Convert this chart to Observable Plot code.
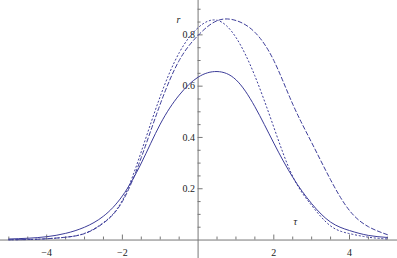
<!DOCTYPE html>
<html>
<head>
<meta charset="utf-8">
<script src="https://cdn.jsdelivr.net/npm/d3@7"></script>
<script src="https://cdn.jsdelivr.net/npm/@observablehq/plot@0.6"></script>
<style>
  html, body { margin: 0; padding: 0; background: #fff; }
</style>
</head>
<body>
<div id="chart"></div>
<script>
// tau sample points
const tau = [-5, -4.5, -4, -3.5, -3, -2.5, -2, -1.5, -1, -0.5, 0, 0.5, 1, 1.5, 2, 2.5, 3, 3.5, 4, 4.5, 5];
// series values
const solid  = [0.004, 0.007, 0.013, 0.026, 0.050, 0.093, 0.172, 0.300, 0.452, 0.565, 0.635, 0.657, 0.625, 0.520, 0.378, 0.245, 0.142, 0.070, 0.037, 0.018, 0.010];
const dotted = [0.001, 0.002, 0.005, 0.011, 0.026, 0.068, 0.155, 0.345, 0.560, 0.730, 0.828, 0.857, 0.790, 0.640, 0.440, 0.248, 0.135, 0.055, 0.025, 0.011, 0.004];
const dashed = [0.001, 0.002, 0.005, 0.011, 0.025, 0.066, 0.150, 0.322, 0.530, 0.700, 0.798, 0.855, 0.856, 0.810, 0.700, 0.530, 0.380, 0.235, 0.115, 0.052, 0.021];
// axis ticks and labels
const xMinorTicks = [-5, -4.5, -3.5, -3, -2.5, -1.5, -1, -0.5, 0.5, 1, 1.5, 2.5, 3, 3.5, 4.5, 5];
const xMajorTicks = [-4, -2, 2, 4];
const yMinorTicks = [0.05, 0.1, 0.15, 0.25, 0.3, 0.35, 0.45, 0.5, 0.55, 0.65, 0.7, 0.75, 0.85, 0.9];
const yMajorTicks = [0.2, 0.4, 0.6, 0.8];
const axisTitles = [
  {x: -0.52, y: 0.86, text: "r"},
  {x: 2.57, y: 0.072, text: "τ"}
];

const W = 397, H = 258;
const xDom = [-5.22, 5.268], yDom = [-0.072, 0.934];
const pxX = W / (xDom[1] - xDom[0]);
const pxY = H / (yDom[1] - yDom[0]);

const series = [
  {values: solid, dash: null},
  {values: dotted, dash: "1.2,2.6"},
  {values: dashed, dash: "4,2.6"}
];
const rows = series.flatMap((s, k) => tau.map((t, i) => ({t, v: s.values[i], k})));

const color = "#3d3d99";
const axisColor = "#777";
const font = "'Liberation Serif', 'DejaVu Serif', serif";
const fmt = d => (d < 0 ? "\u2212" : "") + Math.abs(d);

const marks = [
  Plot.ruleY([0], {stroke: axisColor, strokeWidth: 1}),
  Plot.ruleX([0], {stroke: axisColor, strokeWidth: 1}),
  Plot.ruleX(xMinorTicks, {x: d => d, y1: 0, y2: 3 / pxY, stroke: axisColor}),
  Plot.ruleX(xMajorTicks, {x: d => d, y1: 0, y2: 5 / pxY, stroke: axisColor}),
  Plot.ruleY(yMinorTicks, {y: d => d, x1: 0, x2: 3 / pxX, stroke: axisColor}),
  Plot.ruleY(yMajorTicks, {y: d => d, x1: 0, x2: 5 / pxX, stroke: axisColor}),
  Plot.text(xMajorTicks, {x: d => d, y: 0, text: fmt, dy: 12.5, fontFamily: font, fontSize: 10, fill: "#222"}),
  Plot.text(yMajorTicks, {x: 0, y: d => d, text: d => String(d), textAnchor: "end", dx: -3, fontFamily: font, fontSize: 10, fill: "#222"}),
  Plot.text(axisTitles, {x: "x", y: "y", text: "text", fontFamily: font, fontStyle: "italic", fontSize: 10, fill: "#222"})
];
series.forEach((s, k) => {
  marks.push(Plot.line(rows.filter(r => r.k === k), {
    x: "t", y: "v", curve: "natural",
    stroke: color, strokeWidth: 1,
    strokeDasharray: s.dash
  }));
});

const chart = Plot.plot({
  width: W, height: H, margin: 0,
  x: {domain: xDom, axis: null},
  y: {domain: yDom, axis: null},
  style: {background: "#fff", fontFamily: font},
  marks
});
document.getElementById("chart").appendChild(chart);
</script>
</body>
</html>
